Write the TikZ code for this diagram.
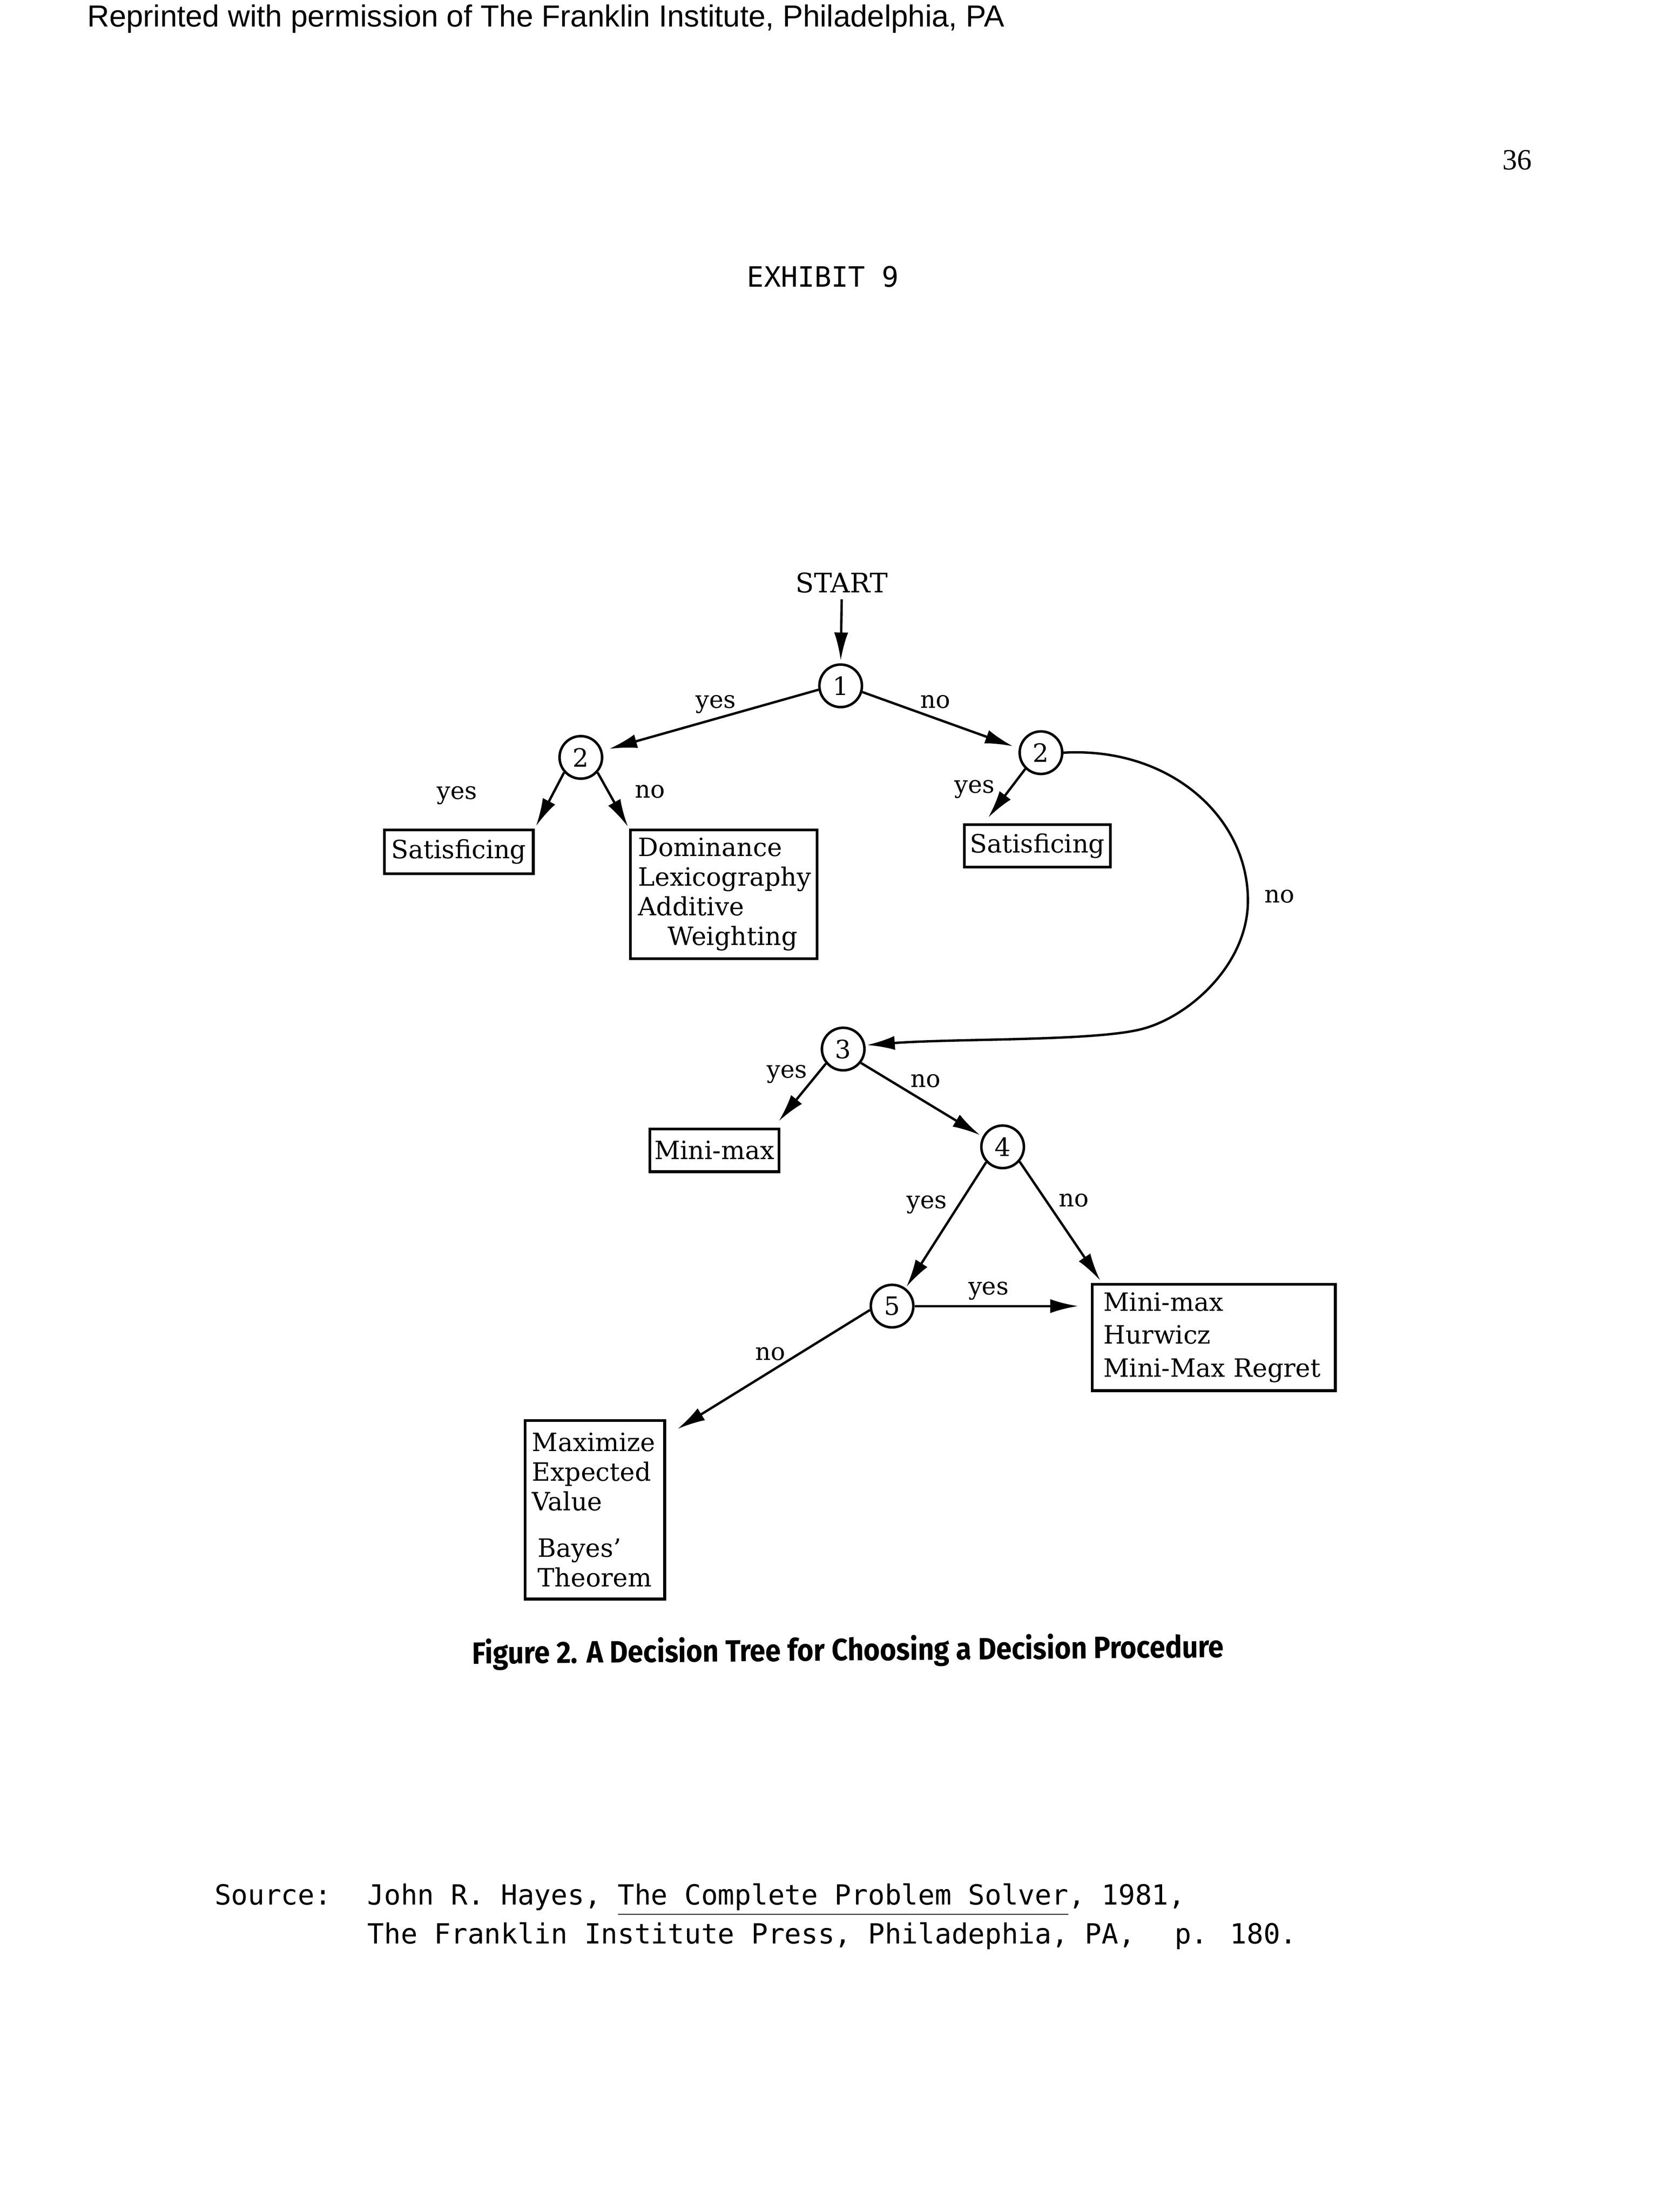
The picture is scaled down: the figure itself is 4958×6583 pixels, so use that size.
\documentclass[tikz,border=0pt]{standalone}
\usepackage{fontspec}
\setmainfont{DejaVu Serif}
\newfontfamily\sansA{Liberation Sans}
\newfontfamily\serifB{Liberation Serif}
\newfontfamily\monoA{DejaVu Sans Mono}
\newfontfamily\capA[FakeStretch=0.91]{Fira Sans}
\usetikzlibrary{arrows.meta,calc}
\begin{document}
\begin{tikzpicture}[x=0.12pt,y=-0.12pt,
  dec/.style={circle,draw,line width=0.9pt,minimum size=15.2pt,inner sep=0pt,font=\fontsize{9}{10}\selectfont},
  onebox/.style={draw,line width=1pt,inner sep=0pt,font=\fontsize{9}{10.6}\selectfont},
  multibox/.style={draw,line width=1pt,align=left,inner ysep=0pt,font=\fontsize{9}{10.6}\selectfont},
  lab/.style={anchor=base,inner sep=0pt,font=\fontsize{8.6}{10}\selectfont},
  arr/.style={line width=0.85pt,-{Latex[length=10pt,width=5pt]}}]
\useasboundingbox[fill=white] (0,0) rectangle (4958,6583);

% header texts
\node[anchor=base west,inner sep=0pt,font=\sansA\fontsize{10.9}{12}\selectfont] (reprint) at (258,79)
  {Reprinted with permission of The Franklin Institute, Philadelphia, PA};
\node[anchor=base west,inner sep=0pt,font=\serifB\fontsize{10.5}{12}\selectfont] (page) at (4470,505) {36};
\node[anchor=base west,inner sep=0pt,font=\monoA\fontsize{10}{12}\selectfont] (exhibit) at (2222,854) {EXHIBIT 9};

% start
\node[inner sep=2pt,font=\fontsize{9.6}{11}\selectfont] (start) at (2505,1735) {START};

% decision circles
\node[dec] (c1)  at (2502,2041) {1};
\node[dec] (c2L) at (1728.6,2254) {2};
\node[dec] (c2R) at (3098,2240) {2};
\node[dec] (c3)  at (2509.5,3122) {3};
\node[dec] (c4)  at (2984,3413) {4};
\node[dec] (c5)  at (2655,3887) {5};

% outcome boxes
\node[onebox,minimum width=53.2pt,minimum height=15.6pt] (satL) at (1365.5,2535) {Satisficing};
\node[multibox,inner xsep=2.8pt,text width=61.1pt,minimum height=46pt] (dom) at (2154,2661.5)
  {Dominance\\Lexicography\\Additive\\\hspace*{10.5pt}Weighting};
\node[onebox,minimum width=52.2pt,minimum height=15.2pt] (satR) at (3087.5,2517.5) {Satisficing};
\node[onebox,minimum width=46.1pt,minimum height=15.2pt] (mmL) at (2126,3423.5) {Mini-max};
\node[multibox,inner xsep=4pt,text width=78.8pt,minimum height=38pt,font=\fontsize{9}{11.8}\selectfont] (rb) at (3612.5,3980.5)
  {Mini-max\\Hurwicz\\Mini-Max Regret};
\node[multibox,inner xsep=2.5pt,text width=44.8pt,minimum height=63.8pt] (mx) at (1770.5,4493)
  {Maximize\\Expected\\Value\\[6pt]\hspace*{2pt}Bayes’\\\hspace*{2pt}Theorem};

% connectors
\draw[arr,shorten >=1pt] (start.south) -- (c1.north);
\draw[arr,shorten >=2.5pt] (c1.190) -- (c2L.17);
\draw[arr,shorten >=2.2pt] (c1.344) -- (c2R.169);
\draw[arr,shorten >=1pt] (c2L.222) -- (satL.north east);
\draw[arr,shorten >=0.7pt] (c2L.318) -- (dom.north west);
\draw[arr,shorten >=2.5pt] (c2R.226) -- (satR.157);
\draw[arr,shorten >=0.5pt] (c2R.0) .. controls (3480,2222) and (3714,2430) .. (3714,2680)
  .. controls (3714,2870) and (3540,3025) .. (3400,3062)
  .. controls (3260,3099) and (2850,3090) .. (c3.10);
\draw[arr,shorten >=3pt] (c3.220) -- (mmL.21.5);
\draw[arr,shorten >=1pt] (c3.322) -- (c4.153);
\draw[arr,shorten >=0.5pt] (c4.223) -- (c5.53);
\draw[arr,shorten >=1pt] (c4.319) -- (rb.154);
\draw[arr,shorten >=4.5pt] (c5.0) -- (c5.0 -| rb.west);
\draw[arr,shorten >=4.8pt] (c5.190) -- (mx.46);

% branch labels
\node[lab] (l1y) at (2130,2107) {yes};
\node[lab] (l1n) at (2784,2107) {no};
\node[lab] (l2Ly) at (1360,2378) {yes};
\node[lab] (l2Ln) at (1934,2375) {no};
\node[lab] (l2Ry) at (2901,2360) {yes};
\node[lab] (l2Rn) at (3808,2687) {no};
\node[lab] (l3y) at (2342,3208) {yes};
\node[lab] (l3n) at (2755,3235) {no};
\node[lab] (l4y) at (2758,3596) {yes};
\node[lab] (l4n) at (3196,3591) {no};
\node[lab] (l5y) at (2942,3853) {yes};
\node[lab] (l5n) at (2293,4048) {no};

% caption
\node[anchor=base,inner sep=0pt,rotate=0.5,font=\capA\bfseries\fontsize{11}{13}\selectfont] (caption) at (2524,4942)
  {Figure 2. A Decision Tree for Choosing a Decision Procedure};

% source
\node[anchor=base west,inner sep=0pt,font=\monoA\fontsize{9.9}{11}\selectfont] (srclab) at (637,5668) {Source:};
\node[anchor=base west,inner sep=0pt,font=\monoA\fontsize{9.9}{11}\selectfont] (src1) at (1092,5668)
  {John R. Hayes, \underline{The Complete Problem Solver}, 1981,};
\node[anchor=base west,inner sep=0pt,font=\monoA\fontsize{9.9}{11}\selectfont] (src2) at (1092,5785)
  {The Franklin Institute Press, Philadephia, PA,};
\node[anchor=base west,inner sep=0pt,font=\monoA\fontsize{9.9}{11}\selectfont] (src3) at (3494,5785) {p. 180.};
\end{tikzpicture}
\end{document}
